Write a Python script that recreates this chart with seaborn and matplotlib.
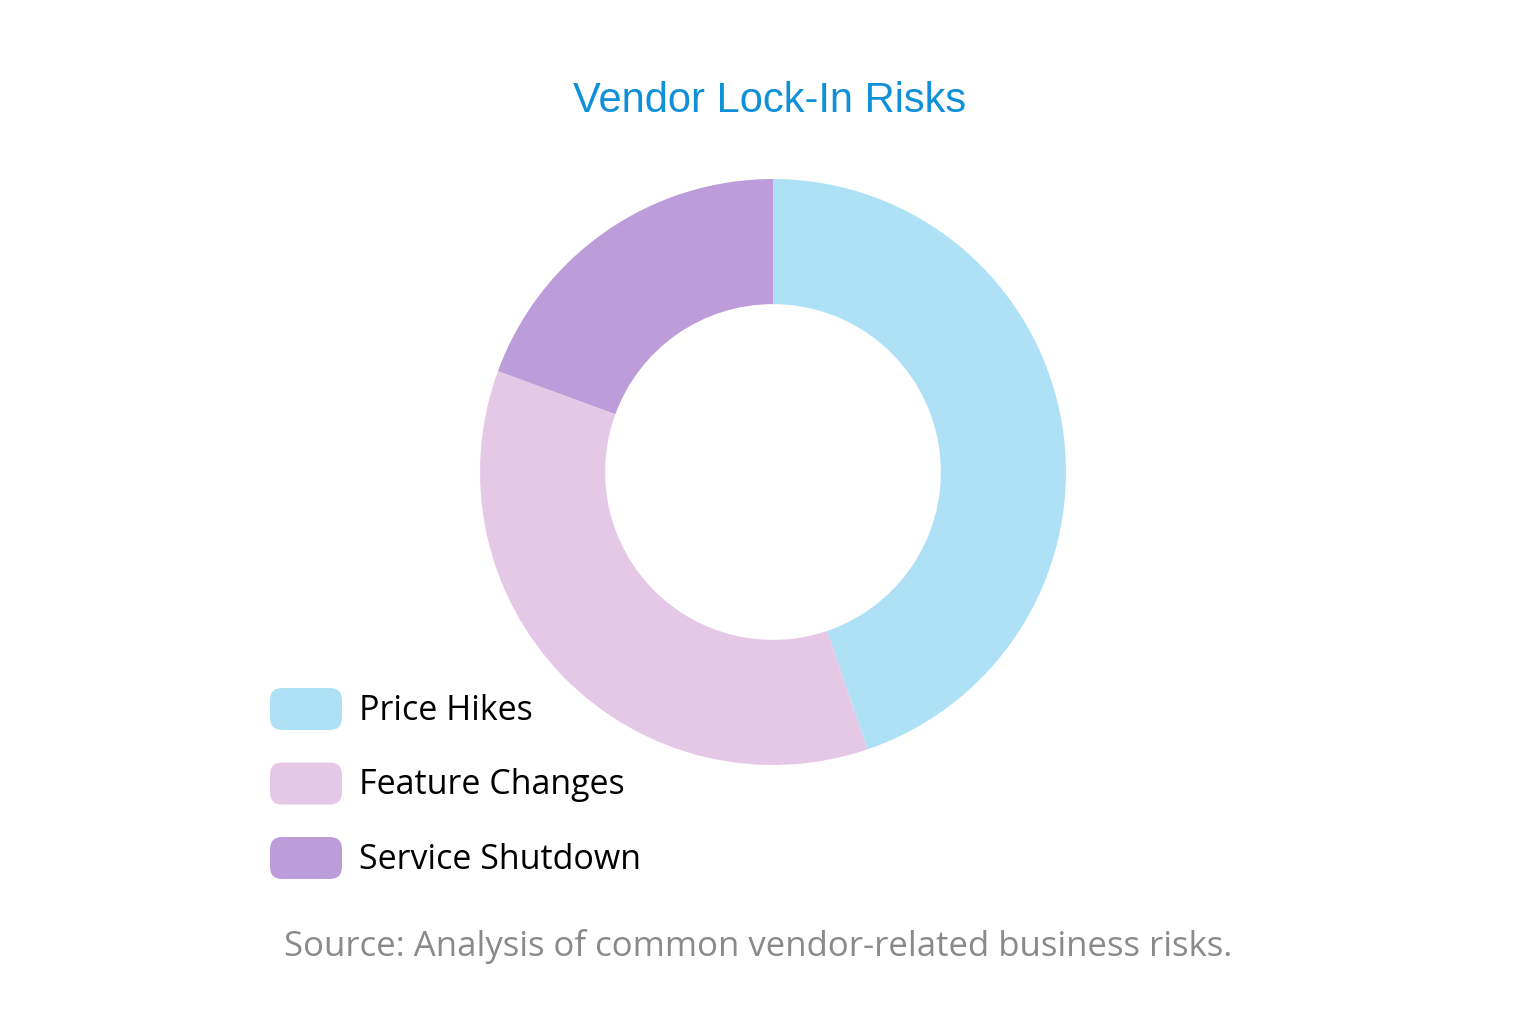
import matplotlib
matplotlib.use("Agg")
import matplotlib.pyplot as plt
from matplotlib.patches import FancyBboxPatch
import seaborn as sns

# data
labels = ["Price Hikes", "Feature Changes", "Service Shutdown"]
shares = [30, 24, 13]
colors = ["#AEE1F5", "#E5C8E6", "#BC9DDA"]

sns.set_theme(style="white")
plt.rcParams["font.family"] = ["Open Sans", "DejaVu Sans"]

fig = plt.figure(figsize=(15.36, 10.24), dpi=100)
fig.patch.set_facecolor("white")

# donut
ax = fig.add_axes([0.3125, 0.2529, 0.3815, 0.5723])
ax.pie(shares, colors=colors, startangle=90, counterclock=False, radius=1.0,
       wedgeprops=dict(width=0.427, edgecolor="none"))
ax.set_xlim(-1, 1)
ax.set_ylim(-1, 1)
ax.set_aspect("equal")
ax.axis("off")

# title
fig.text(770 / 1536, 1 - 101 / 1024, "Vendor Lock-In Risks", ha="center", va="center",
         fontsize=30, color="#1090D8", family=["Liberation Sans", "DejaVu Sans"])

# legend with rounded swatches
for i, (lab, col) in enumerate(zip(labels, colors)):
    yc = 709 + i * 74.5
    box = FancyBboxPatch((270 / 1536, 1 - (yc + 21) / 1024), 72 / 1536, 42 / 1024,
                         boxstyle="round,pad=0,rounding_size=0.008",
                         transform=fig.transFigure, facecolor=col, edgecolor="none",
                         mutation_aspect=1.5)
    fig.patches.append(box)
    fig.text(359 / 1536, 1 - (yc + 2) / 1024, lab, ha="left", va="center",
             fontsize=24.5, color="black")

# source note
fig.text(758 / 1536, 1 - 947 / 1024, "Source: Analysis of common vendor-related business risks.",
         ha="center", va="center", fontsize=25, color="#8A8A8A")

fig.savefig("out.png", dpi=100, facecolor="white")
